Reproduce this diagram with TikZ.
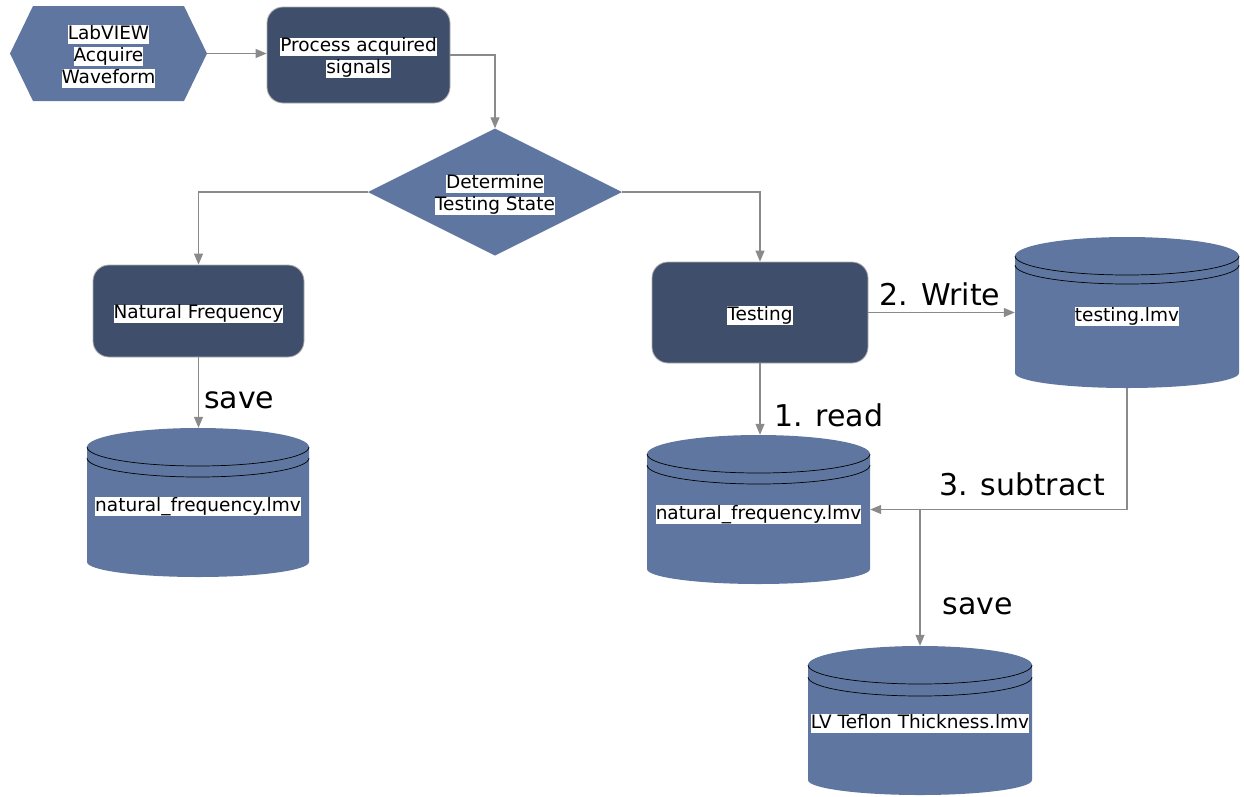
\documentclass[tikz,border=0pt]{standalone}
\usepackage{fontspec}
\setmainfont{DejaVu Sans}
\usetikzlibrary{shapes.geometric,arrows.meta}
\definecolor{midblue}{HTML}{5F77A0}
\definecolor{darkblue}{HTML}{3F4F6B}
\definecolor{linegray}{HTML}{8A8A8A}
\newcommand\hlw[1]{{\setlength{\fboxsep}{0pt}\colorbox{white}{\rule[-0.24em]{0pt}{1.0em}#1}}}
\begin{document}
\begin{tikzpicture}[x=1pt,y=-1pt,
  lbl/.style={font=\fontsize{18.5}{22}\selectfont, align=center, inner sep=0pt, yshift=-3pt},
  big/.style={font=\fontsize{30}{34}\selectfont, inner sep=0pt},
  procbox/.style={rectangle, rounded corners=16pt, fill=darkblue, draw=linegray!70, line width=0.8pt, inner sep=0pt},
  ghost/.style={rectangle, inner sep=0pt, draw=none},
  conn/.style={draw=linegray, line width=1.1pt, -{Triangle[length=11pt,width=9pt]}},
  cylline/.style={draw=black, line width=0.7pt}
]
\useasboundingbox (0,0) rectangle (1244,796);

% hexagon
\fill[midblue] (10,53.5) -- (33,6) -- (184,6) -- (207,53.5) -- (184,101) -- (33,101) -- cycle;
\node[ghost, minimum width=197pt, minimum height=95pt] (hex) at (108.5,53.5) {};
\node[lbl] (hext) at (hex.center) {\hlw{LabVIEW}\\\hlw{Acquire}\\\hlw{Waveform}};

% process box
\node[procbox, minimum width=183pt, minimum height=96pt] (proc) at (358.5,55) {};
\node[lbl] (proct) at (proc.center) {\hlw{Process acquired}\\\hlw{signals}};

% diamond
\fill[midblue] (368,192) -- (495,128.5) -- (622,192) -- (495,255.5) -- cycle;
\node[ghost, minimum width=254pt, minimum height=127pt] (dia) at (495,192) {};
\node[lbl] (diat) at (dia.center) {\hlw{Determine}\\\hlw{Testing State}};

% natural frequency box
\node[procbox, minimum width=211pt, minimum height=92pt] (natf) at (198.5,311) {};
\node[lbl] (natft) at (natf.center) {\hlw{Natural Frequency}};

% testing box
\node[procbox, minimum width=216pt, minimum height=101pt] (test) at (760,312.5) {};
\node[lbl] (testt) at (test.center) {\hlw{Testing}};

% left cylinder
\fill[midblue] (87,447) arc[start angle=180,end angle=360,x radius=111,y radius=19]
  -- (309,562) arc[start angle=0,end angle=180,x radius=111,y radius=15] -- cycle;
\draw[cylline] (87,447) arc[start angle=180,end angle=0,x radius=111,y radius=19];
\draw[cylline] (87,458) arc[start angle=180,end angle=0,x radius=111,y radius=19];
\node[ghost, minimum width=222pt, minimum height=149pt] (cylL) at (198,502.5) {};
\node[lbl] (cylLt) at (198,503.5) {\hlw{natural\_frequency.lmv}};

% middle cylinder
\fill[midblue] (647,454) arc[start angle=180,end angle=360,x radius=111.5,y radius=19]
  -- (870,569) arc[start angle=0,end angle=180,x radius=111.5,y radius=15] -- cycle;
\draw[cylline] (647,454) arc[start angle=180,end angle=0,x radius=111.5,y radius=19];
\draw[cylline] (647,465) arc[start angle=180,end angle=0,x radius=111.5,y radius=19];
\node[ghost, minimum width=223pt, minimum height=149pt] (cylM) at (758.5,509.5) {};
\node[lbl] (cylMt) at (758.5,511.5) {\hlw{natural\_frequency.lmv}};

% testing.lmv cylinder
\fill[midblue] (1015,256) arc[start angle=180,end angle=360,x radius=112,y radius=19]
  -- (1239,373) arc[start angle=0,end angle=180,x radius=112,y radius=15] -- cycle;
\draw[cylline] (1015,256) arc[start angle=180,end angle=0,x radius=112,y radius=19];
\draw[cylline] (1015,265) arc[start angle=180,end angle=0,x radius=112,y radius=19];
\node[ghost, minimum width=224pt, minimum height=151pt] (cylT) at (1127,312.5) {};
\node[lbl] (cylTt) at (1127,313.5) {\hlw{testing.lmv}};

% bottom cylinder
\fill[midblue] (808,665) arc[start angle=180,end angle=360,x radius=112,y radius=19]
  -- (1032,780) arc[start angle=0,end angle=180,x radius=112,y radius=15] -- cycle;
\draw[cylline] (808,665) arc[start angle=180,end angle=0,x radius=112,y radius=19];
\draw[cylline] (808,677) arc[start angle=180,end angle=0,x radius=112,y radius=19];
\node[ghost, minimum width=224pt, minimum height=149pt] (cylB) at (920,720.5) {};
\node[lbl] (cylBt) at (920,720.5) {\hlw{LV Teflon Thickness.lmv}};

% connectors
\draw[conn] (hex.east) -- (proc.west |- hex.east);
\draw[conn] (proc.east) -| (dia.north);
\draw[conn] (dia.west) -| (natf.north);
\draw[conn] (dia.east) -| (test.north);
\draw[conn] (natf.south) -- (natf.south |- cylL.north);
\draw[conn] (test.south) -- (test.south |- cylM.north);
\draw[conn] (test.east) -- (cylT.west);
\draw[conn] (cylT.south) |- (cylM.east);
\coordinate (junc) at (cylB.north |- cylM.east);
\draw[conn] (junc) -- (cylB.north);

% labels
\node[big] (lwrite) at (940,294) {2. Write};
\node[big, anchor=west] (lread) at (774,415) {1. read};
\node[big] (lsub) at (1022,484) {3. subtract};
\node[big, anchor=west] (lsave1) at (204,400) {save};
\node[big] (lsave2) at (978,606) {save};
\end{tikzpicture}
\end{document}
